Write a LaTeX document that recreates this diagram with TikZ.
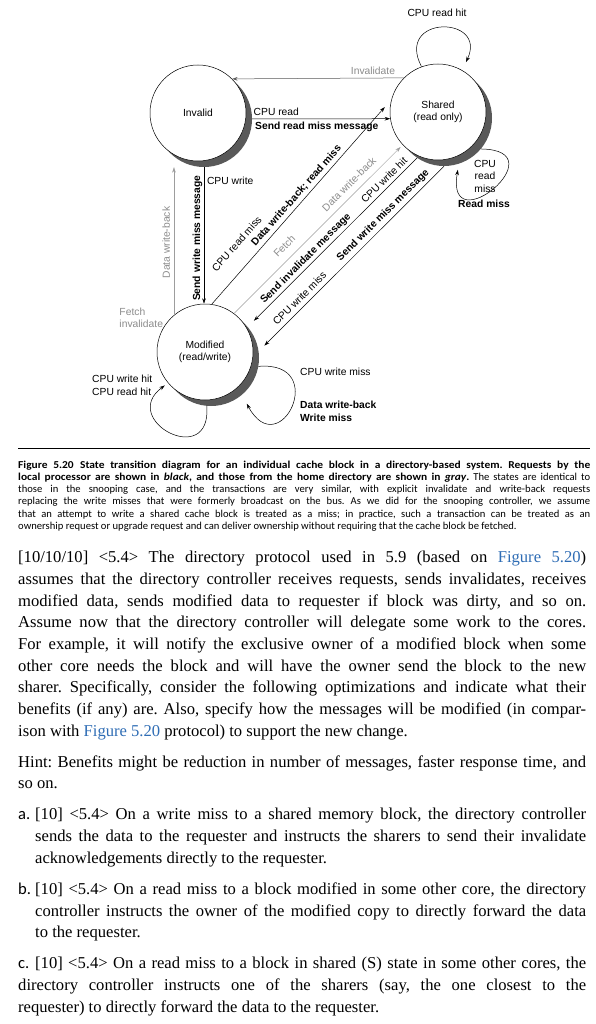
\documentclass[tikz,border=0pt]{standalone}
\usepackage{fontspec}
\setmainfont{Liberation Serif}
\newfontfamily\diafont{Liberation Sans}
\newfontfamily\capfont[BoldFeatures={FakeStretch=1.08}, BoldItalicFeatures={FakeStretch=1.08}]{Carlito}
\usetikzlibrary{arrows.meta, positioning, calc, backgrounds}
\definecolor{shadegray}{HTML}{595959}
\definecolor{labelgray}{HTML}{8C8C8C}
\definecolor{linkblue}{HTML}{2F6DB5}
\newcommand{\lbfont}{\diafont\fontsize{10.3}{12.5}\selectfont}

\begin{document}
\begin{tikzpicture}[x=1pt, y=1pt,
  state/.style={circle, draw=black, line width=0.5pt, fill=white,
                minimum size=96pt, inner sep=0pt, align=center, font=\lbfont},
  stateshade/.style={circle, fill=shadegray, minimum size=96pt, inner sep=0pt},
  arr/.style={-{Stealth[length=5.5pt, width=3.6pt]}, line width=0.5pt},
  homearr/.style={arr, draw=labelgray!85},
  lbl/.style={font=\lbfont, inner sep=0pt, text height=7.5pt, text depth=2pt},
  lblb/.style={lbl, font=\lbfont\bfseries},
  glbl/.style={lbl, text=labelgray},
  lblm/.style={font=\lbfont, inner sep=0pt},
  captext/.style={text width=572pt, align=justify, inner sep=0pt,
                  font=\capfont\fontsize{10.6}{12.1}\selectfont\frenchspacing},
  bodytext/.style={text width=568pt, align=justify, inner sep=0pt,
                   font=\fontsize{16.6}{21.66}\selectfont\frenchspacing},
]
\useasboundingbox (0,0) rectangle (595,-1024);

% states
\node[state] (I) at (198,-113) {Invalid};
\node[state] (S) at (438,-112) {Shared\\(read only)};
\node[state] (M) at (205,-352) {Modified\\(read/write)};
\begin{scope}[on background layer]
  \fill[white] (0,0) rectangle (595,-1024);
  \node[stateshade] (Ish) at ($(I)+(6,-6)$) {};
  \node[stateshade] (Ssh) at ($(S)+(6,-6)$) {};
  \node[stateshade] (Msh) at ($(M)+(6,-6)$) {};
\end{scope}

% Invalid <-> Shared
\draw[arr, draw=black!65] (S.135) -- node[glbl, pos=0.18, anchor=south, outer ysep=2pt] {Invalidate} (I.45);
\draw[arr] (Ish.east) -- node[lbl, pos=0, anchor=south west, outer sep=1.5pt] {CPU read}
  node[lblb, pos=0, anchor=north west, outer sep=3pt] {Send read miss message} (S.188);

% Invalid <-> Modified
\draw[arr] (Ish.south) -- node[lbl, pos=0.11, anchor=west, outer sep=3pt] {CPU write}
  node[lblb, pos=0.52, rotate=90, anchor=south, outer sep=2pt] {Send write miss message} (Ish.south |- M.north);
\draw[homearr] (M.130) -- node[glbl, pos=0.49, rotate=90, anchor=south, outer sep=2pt] {Data write-back} (M.130 |- Ish.south);
\node[lblm, text=labelgray, align=left, anchor=south east] (fi) at (M.150) {Fetch\\invalidate};

% Modified <-> Shared
\draw[arr, shorten >=10pt] (M.82) -- node[lbl, pos=0.227, sloped, anchor=south, outer ysep=15.5pt] {CPU read miss}
  node[lblb, pos=0.505, sloped, anchor=south, outer ysep=3pt] {Data write-back; read miss} (S.165);
\draw[homearr, shorten >=3pt] (M.53) -- node[glbl, pos=0.349, sloped, anchor=south, outer ysep=6.5pt] {Fetch}
  node[glbl, pos=0.724, sloped, anchor=south, outer ysep=4.5pt] {Data write-back} (S.223);
\draw[arr, shorten >=10pt] (Ssh.236) -- node[lblb, pos=0.623, sloped, anchor=south, outer ysep=2.5pt] {Send invalidate message}
  node[lbl, pos=0.162, sloped, anchor=south, outer ysep=2pt] {CPU write hit} (M.30);
\draw[arr, shorten >=8pt] (Ssh.south) -- node[lbl, pos=0.747, sloped, anchor=south, outer ysep=3pt] {CPU write miss}
  node[lblb, pos=0.297, sloped, anchor=south, outer ysep=3.5pt] {Send write miss message} (Msh.8);

% self loops
\draw[arr, shorten >=9pt] (S.110) .. controls +(-27,52) and +(26,55) .. (S.60);
\node[lbl] (srh) at (437,-14) {CPU read hit};
\draw[arr, shorten >=6pt] (Ssh.-40) .. controls +(79,-1) and +(-14,-81) .. (Ssh.-72);
\node[lblm, align=center, anchor=north] (srm) at (485,-160) {CPU\\read\\miss};
\node[lblb] (srmb) at (484,-205) {Read miss};
\draw[arr, shorten >=10pt] (Msh.-10) .. controls +(72,6) and +(38,-70) .. (Msh.-50);
\node[lbl, anchor=west] (mwm) at (300,-373) {CPU write miss};
\node[lblm, font=\lbfont\bfseries, align=left, anchor=north west] (mwb) at (300,-401) {Data write-back\\Write miss};
\draw[arr, shorten >=4pt] (Msh.265) .. controls +(5,-64) and +(-50,-37) .. (M.-140);
\node[lblm, align=left, anchor=north west] (mhit) at (92,-375) {CPU write hit\\CPU read hit};

% caption and exercise text
\draw[line width=0.6pt] (18,-448) -- (590,-448);
\node[captext, anchor=north west] (cap) at (18,-461) {\parfillskip=0pt \hyphenpenalty=10000 \tolerance=9999
{\bfseries Figure 5.20\hspace{0.6em}State transition diagram for an individual cache block in a directory-based system. Requests by the\linebreak
local processor are shown in \textit{black}, and those from the home directory are shown in \textit{gray}.}
The states are identical to\linebreak
those in the snooping case, and the transactions are very similar, with explicit invalidate and write-back requests\linebreak
replacing the write misses that were formerly broadcast on the bus. As we did for the snooping controller, we assume\linebreak
that an attempt to write a shared cache block is treated as a miss; in practice, such a transaction can be treated as an\linebreak
ownership request or upgrade request and can deliver ownership without requiring that the cache block be fetched.};

\node[bodytext, anchor=north west] (body) at (18,-551) {\parindent=0pt \parskip=9.5pt \hyphenpenalty=10000 \tolerance=9999
\noindent [10/10/10] <5.4> The directory protocol used in 5.9 (based on \textcolor{linkblue}{Figure 5.20})\linebreak
assumes that the directory controller receives requests, sends invalidates, receives\linebreak
modified data, sends modified data to requester if block was dirty, and so on.\linebreak
Assume now that the directory controller will delegate some work to the cores.\linebreak
For example, it will notify the exclusive owner of a modified block when some\linebreak
other core needs the block and will have the owner send the block to the new\linebreak
sharer. Specifically, consider the following optimizations and indicate what their\linebreak
benefits (if any) are. Also, specify how the messages will be modified (in compar-\linebreak
ison with \textcolor{linkblue}{Figure 5.20} protocol) to support the new change.\par
\noindent Hint: Benefits might be reduction in number of messages, faster response time, and\linebreak
so on.\par
\hangindent=17pt \hangafter=1 \noindent\makebox[17pt][l]{\capfont a.}[10] <5.4> On a write miss to a shared memory block, the directory controller\linebreak
sends the data to the requester and instructs the sharers to send their invalidate\linebreak
acknowledgements directly to the requester.\par
\hangindent=17pt \hangafter=1 \noindent\makebox[17pt][l]{\capfont b.}[10] <5.4> On a read miss to a block modified in some other core, the directory\linebreak
controller instructs the owner of the modified copy to directly forward the data\linebreak
to the requester.\par
\hangindent=17pt \hangafter=1 \noindent\makebox[17pt][l]{\capfont c.}[10] <5.4> On a read miss to a block in shared (S) state in some other cores, the\linebreak
directory controller instructs one of the sharers (say, the one closest to the\linebreak
requester) to directly forward the data to the requester.};
\end{tikzpicture}
\end{document}
